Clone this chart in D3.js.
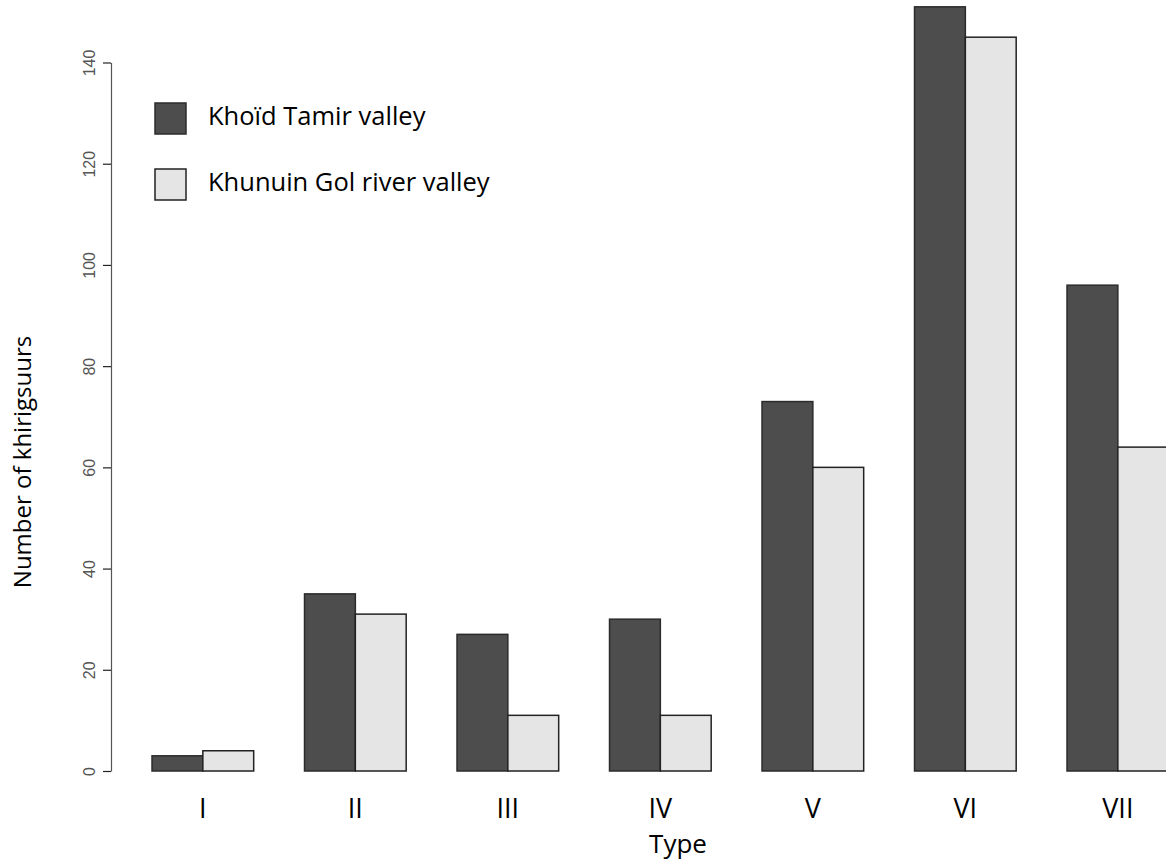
<!DOCTYPE html>
<html>
<head>
<meta charset="utf-8">
<script src="https://cdn.jsdelivr.net/npm/d3@7"></script>
<style>
  html, body { margin: 0; padding: 0; background: #fff; }
  svg { display: block; }
</style>
</head>
<body>
<svg id="chart" width="1166" height="860"></svg>
<script>
// Khirigsuur counts by type in two valleys
const categories = ["I", "II", "III", "IV", "V", "VI", "VII"];
const seriesNames = ["Khoïd Tamir valley", "Khunuin Gol river valley"];
const khoidTamir = [3, 35, 27, 30, 73, 151, 96];
const khunuinGol = [4, 31, 11, 11, 60, 145, 64];
const yTicks = [0, 20, 40, 60, 80, 100, 120, 140];

const fills = ["#4d4d4d", "#e5e5e5"];
const strokes = ["#2b2b2b", "#222"];
const seriesValues = [khoidTamir, khunuinGol];

const svg = d3.select("#chart");
const labelFont = "'Open Sans', 'Noto Sans', sans-serif";

const y = d3.scaleLinear().domain([0, 140]).range([771, 62.5]);

// groups of two adjacent bars separated by one bar width
const x = d3.scaleBand()
  .domain(categories)
  .range([126.6, 1194.1])
  .paddingInner(1 / 3)
  .paddingOuter(1 / 6);

const xs = d3.scaleBand()
  .domain(seriesNames)
  .range([0, x.bandwidth()]);

// bars
const groups = svg.append("g")
  .selectAll("g")
  .data(categories)
  .join("g")
  .attr("transform", d => `translate(${x(d)},0)`);

groups.selectAll("rect")
  .data((c, i) => seriesNames.map((s, k) => ({ s, k, v: seriesValues[k][i] })))
  .join("rect")
  .attr("x", d => xs(d.s))
  .attr("width", xs.bandwidth())
  .attr("y", d => y(d.v))
  .attr("height", d => y(0) - y(d.v))
  .attr("fill", d => fills[d.k])
  .attr("stroke", d => strokes[d.k])
  .attr("stroke-width", 1.5);

// y axis
const yAxis = svg.append("g")
  .attr("transform", "translate(111,0)")
  .call(d3.axisLeft(y).tickValues(yTicks).tickSize(8).tickPadding(0).tickSizeOuter(0));
yAxis.select(".domain").attr("stroke", "#555").attr("stroke-width", 1.2);
yAxis.selectAll(".tick line").attr("stroke", "#222").attr("stroke-width", 1.2);
yAxis.selectAll(".tick text")
  .attr("transform", "translate(-22,0) rotate(-90)")
  .attr("x", 0).attr("y", 0).attr("dy", "0.35em")
  .attr("text-anchor", "middle")
  .attr("fill", "#555")
  .style("font-family", "'Liberation Sans', Arial, sans-serif")
  .style("font-size", "16px");

// category labels
svg.append("g")
  .selectAll("text")
  .data(categories)
  .join("text")
  .attr("x", d => x(d) + x.bandwidth() / 2)
  .attr("y", 818)
  .attr("text-anchor", "middle")
  .attr("fill", "#000")
  .style("font-family", labelFont)
  .style("font-size", "27px")
  .text(d => d);

// axis titles
svg.append("text")
  .attr("x", 678)
  .attr("y", 853)
  .attr("text-anchor", "middle")
  .attr("fill", "#000")
  .style("font-family", labelFont)
  .style("font-size", "26px")
  .text("Type");

svg.append("text")
  .attr("transform", "translate(31,462) rotate(-90)")
  .attr("text-anchor", "middle")
  .attr("fill", "#000")
  .style("font-family", labelFont)
  .style("font-size", "24px")
  .text("Number of khirigsuurs");

// legend
const legend = svg.append("g")
  .selectAll("g")
  .data(seriesNames)
  .join("g")
  .attr("transform", (d, i) => `translate(155,${103 + i * 66})`);

legend.append("rect")
  .attr("width", 31)
  .attr("height", 31)
  .attr("fill", (d, i) => fills[i])
  .attr("stroke", (d, i) => strokes[i])
  .attr("stroke-width", 1.5);

legend.append("text")
  .attr("x", 53)
  .attr("y", 22)
  .attr("fill", "#000")
  .style("font-family", labelFont)
  .style("font-size", "25.5px")
  .text(d => d);
</script>
</body>
</html>
